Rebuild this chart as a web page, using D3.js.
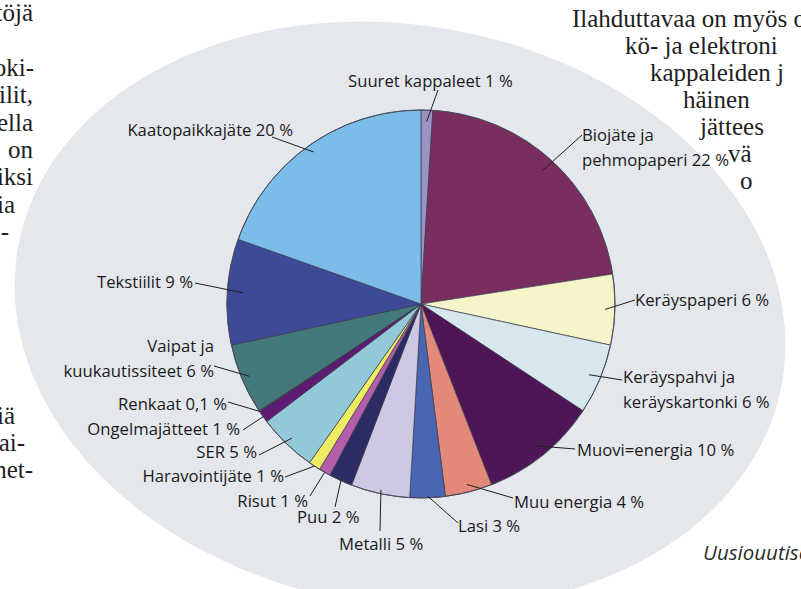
<!DOCTYPE html>
<html lang="fi">
<head>
  <meta charset="UTF-8">
  <title>Jätteen koostumus</title>
  <script src="https://d3js.org/d3.v7.min.js"></script>
  <style>
    body {
      margin: 0;
      background: #ffffff;
    }
    svg {
      display: block;
    }
    .body-text {
      font-family: "Liberation Serif", "DejaVu Serif", serif;
      font-size: 25px;
      fill: #1e1e1e;
    }
    .label {
      font-family: "Open Sans", "Liberation Sans", sans-serif;
      font-size: 16.7px;
      fill: #1a1a1a;
    }
    .leader {
      stroke: #1e1e1e;
      stroke-width: 1;
      fill: none;
    }
  </style>
</head>
<body>
  <div id="chart"></div>

  <script>
    // waste composition, share of the bin (%), clockwise from 12 o'clock
    const categories = [
      "Suuret kappaleet", "Biojäte ja\npehmopaperi", "Keräyspaperi",
      "Keräyspahvi ja\nkeräyskartonki", "Muovi=energia", "Muu energia", "Lasi",
      "Metalli", "Puu", "Risut", "Haravointijäte", "SER", "Ongelmajätteet",
      "Renkaat", "Vaipat ja\nkuukautissiteet", "Tekstiilit", "Kaatopaikkajäte"
    ];
    const percents = [1, 22, 6, 6, 10, 4, 3, 5, 2, 1, 1, 5, 1, 0.1, 6, 9, 20];
    const colors = [
      "#9b93c4", "#7a2e5f", "#f6f4c9", "#d6e7ee", "#4e1657", "#e2897a", "#4866b2",
      "#cdc9e3", "#2d2b63", "#b45ea9", "#eeec62", "#92c8d8", "#5d1b74",
      "#333333", "#44797b", "#3e4a98", "#7bbce8"
    ];

    // surrounding article text that wraps round the grey ellipse
    const leftText = [
      ["töjä", 33, 21], ["oki-", 34, 76], ["iilit,", 33, 103], ["ella", 33, 131],
      ["on", 33, 158], ["iksi", 33, 185], ["ia", 15, 213], ["-", 9, 240],
      ["iä", 15, 424], ["pai-", 25, 451], ["net-", 33, 478]
    ];
    const rightText = [
      ["Ilahduttavaa on myös o", 572, 27], ["kö- ja elektroni", 625, 54],
      ["kappaleiden j", 650, 81], ["häinen", 683, 108], ["jättees", 700, 135],
      ["vä", 728, 162], ["o", 740, 189]
    ];

    // label placement: text anchor point, leader end near the text, leader depth into slice
    const labelLayout = [
      { x: 348, y: 87,  anchor: "start", ex: 438, ey: 90,  depth: 0.94 },
      { x: 582, y: 141, anchor: "start", ex: 582, ey: 135, depth: 0.93 },
      { x: 635, y: 306, anchor: "start", ex: 635, ey: 300, depth: 0.95 },
      { x: 623, y: 383, anchor: "start", ex: 622, ey: 380, depth: 0.94 },
      { x: 577, y: 456, anchor: "start", ex: 575, ey: 449, depth: 0.94 },
      { x: 514, y: 508, anchor: "start", ex: 513, ey: 498, depth: 0.96 },
      { x: 458, y: 532, anchor: "start", ex: 458, ey: 523, depth: 0.99 },
      { x: 339, y: 550, anchor: "start", ex: 380, ey: 531, depth: 0.98 },
      { x: 297, y: 523, anchor: "start", ex: 335, ey: 507, depth: 0.99 },
      { x: 308, y: 507, anchor: "end",   ex: 310, ey: 496, depth: 1.0 },
      { x: 284, y: 482, anchor: "end",   ex: 285, ey: 477, depth: 1.0 },
      { x: 257, y: 458, anchor: "end",   ex: 259, ey: 455, depth: 0.96 },
      { x: 240, y: 435, anchor: "end",   ex: 243, ey: 430, depth: 1.0 },
      { x: 227, y: 410, anchor: "end",   ex: 228, ey: 402, depth: 1.0 },
      { x: 214, y: 352, anchor: "end",   ex: 214, ey: 366, depth: 0.96 },
      { x: 193, y: 288, anchor: "end",   ex: 195, ey: 283, depth: 0.92 },
      { x: 293, y: 136, anchor: "end",   ex: 272, ey: 137, depth: 0.96 }
    ];

    const width = 801;
    const height = 589;
    const cx = 421, cy = 304, radius = 194;
    const lineHeight = 25;

    const data = categories.map((c, i) => ({ name: c, value: percents[i], color: colors[i] }));

    const svg = d3.select("#chart")
      .append("svg")
      .attr("width", width)
      .attr("height", height)
      .attr("viewBox", [0, 0, width, height]);

    svg.append("rect")
      .attr("width", width)
      .attr("height", height)
      .attr("fill", "#ffffff");

    // grey backdrop, tilted so the text on the top right stays clear
    svg.append("ellipse")
      .attr("cx", 400)
      .attr("cy", 315)
      .attr("rx", 388)
      .attr("ry", 290)
      .attr("transform", "rotate(10, 400, 315)")
      .attr("fill", "#e4e8ec");

    svg.append("g")
      .selectAll("text")
      .data(leftText)
      .join("text")
        .attr("class", "body-text")
        .attr("x", d => d[1])
        .attr("y", d => d[2])
        .attr("text-anchor", "end")
        .text(d => d[0]);

    svg.append("g")
      .selectAll("text")
      .data(rightText)
      .join("text")
        .attr("class", "body-text")
        .attr("x", d => d[1])
        .attr("y", d => d[2])
        .text(d => d[0]);

    const pie = d3.pie()
      .sort(null)
      .value(d => d.value);

    const arc = d3.arc()
      .innerRadius(0)
      .outerRadius(radius);

    const arcs = pie(data);

    const g = svg.append("g")
      .attr("transform", `translate(${cx},${cy})`);

    g.selectAll("path")
      .data(arcs)
      .join("path")
        .attr("d", arc)
        .attr("fill", d => d.data.color)
        .attr("stroke", "#3a3a4c")
        .attr("stroke-width", 0.7);

    g.append("circle")
      .attr("r", radius)
      .attr("fill", "none")
      .attr("stroke", "#4a4a5a")
      .attr("stroke-width", 1);

    const fmt = v => String(v).replace(".", ",");

    // leaders
    svg.append("g")
      .selectAll("line")
      .data(arcs)
      .join("line")
        .attr("class", "leader")
        .attr("x1", (d, i) => labelLayout[i].ex)
        .attr("y1", (d, i) => labelLayout[i].ey)
        .attr("x2", (d, i) => {
          const a = (d.startAngle + d.endAngle) / 2;
          return cx + Math.sin(a) * radius * labelLayout[i].depth;
        })
        .attr("y2", (d, i) => {
          const a = (d.startAngle + d.endAngle) / 2;
          return cy - Math.cos(a) * radius * labelLayout[i].depth;
        });

    // labels
    svg.append("g")
      .selectAll("text")
      .data(arcs)
      .join("text")
        .attr("class", "label")
        .attr("x", (d, i) => labelLayout[i].x)
        .attr("y", (d, i) => labelLayout[i].y)
        .attr("text-anchor", (d, i) => labelLayout[i].anchor)
        .each(function(d, i) {
          const lines = (d.data.name + " " + fmt(d.data.value) + " %").split("\n");
          d3.select(this).selectAll("tspan")
            .data(lines)
            .join("tspan")
              .attr("x", labelLayout[i].x)
              .attr("dy", (l, j) => j === 0 ? 0 : lineHeight)
              .text(l => l);
        });

    svg.append("text")
      .attr("x", 703)
      .attr("y", 560)
      .attr("font-family", "'Open Sans', 'Liberation Sans', sans-serif")
      .attr("font-style", "italic")
      .attr("font-size", 20.5)
      .attr("fill", "#2a2a2a")
      .text("Uusiouutiset");
  </script>
</body>
</html>
